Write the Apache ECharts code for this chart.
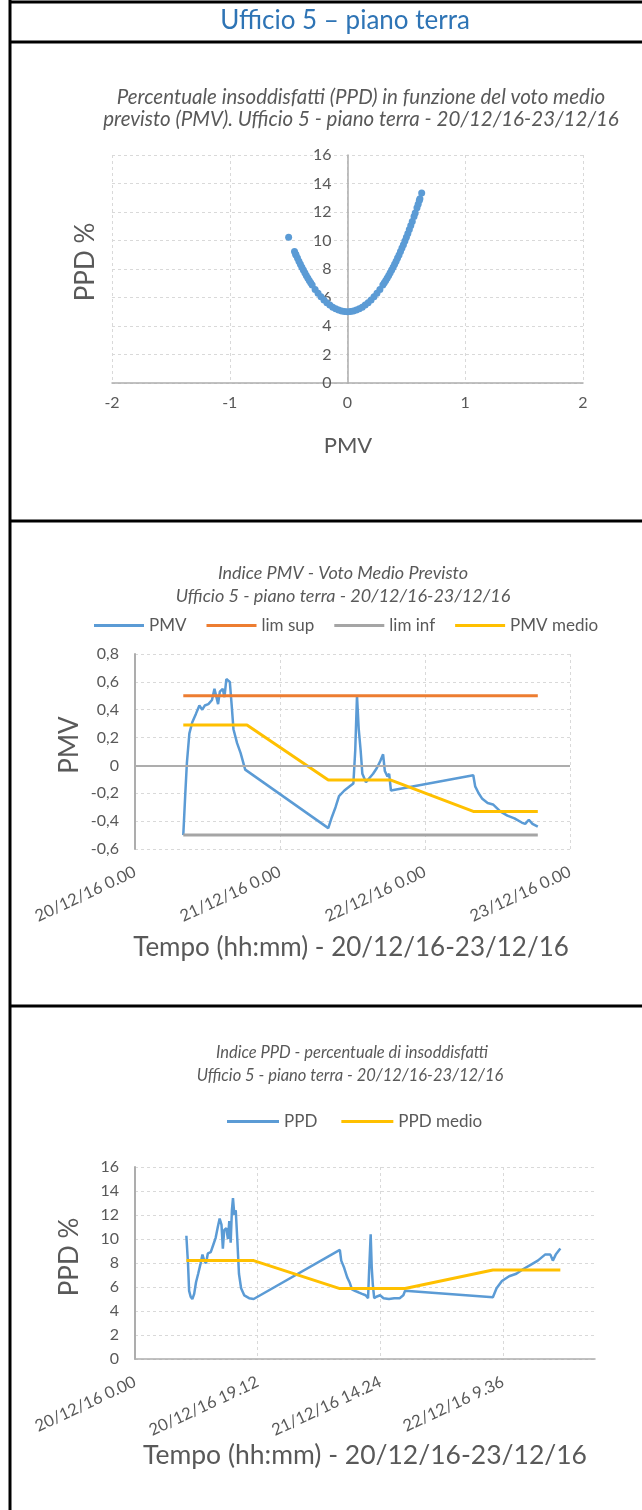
<!DOCTYPE html>
<html>
<head>
<meta charset="utf-8">
<script src="https://cdn.jsdelivr.net/npm/echarts@6/dist/echarts.min.js"></script>
<style>
  html, body { margin: 0; padding: 0; background: #ffffff; }
  #chart { width: 642px; height: 1510px; }
</style>
</head>
<body>
<div id="chart"></div>
<script>
// ---- Scatter: PPD (%) against PMV ----
const scatterPmv = [-0.50, -0.45, -0.44, -0.4375, -0.425, -0.4125, -0.40, -0.3875, -0.375, -0.3625, -0.35, -0.3375, -0.325, -0.3125,
  -0.30, -0.275, -0.25, -0.225, -0.20, -0.175, -0.15, -0.125, -0.10, -0.075, -0.05, -0.025, 0.00,
  0.025, 0.05, 0.075, 0.10, 0.125, 0.15, 0.175, 0.20, 0.225, 0.25, 0.275, 0.30, 0.3125, 0.325, 0.3375, 0.35,
  0.3625, 0.375, 0.3875, 0.40, 0.4125, 0.425, 0.4375, 0.45, 0.4625, 0.475, 0.4875, 0.50, 0.5125, 0.525,
  0.5375, 0.55, 0.565, 0.575, 0.59, 0.60, 0.61, 0.615, 0.63];
const scatterPpd = [10.22, 9.23, 9.04, 8.99, 8.77, 8.55, 8.33, 8.13, 7.93, 7.73, 7.55, 7.37, 7.20, 7.03,
  6.87, 6.57, 6.30, 6.05, 5.83, 5.63, 5.47, 5.32, 5.21, 5.12, 5.05, 5.01, 5.00,
  5.01, 5.05, 5.12, 5.21, 5.32, 5.47, 5.63, 5.83, 6.05, 6.30, 6.57, 6.87, 7.03, 7.20, 7.37, 7.55,
  7.73, 7.93, 8.13, 8.33, 8.55, 8.77, 8.99, 9.23, 9.47, 9.71, 9.97, 10.22, 10.49, 10.77,
  11.05, 11.33, 11.69, 11.93, 12.30, 12.55, 12.80, 12.93, 13.33];

// ---- PMV over time (time in days from 20/12/16 0.00) ----
const pmvTime = [0.333, 0.346, 0.358, 0.375, 0.395, 0.420, 0.444, 0.464, 0.481, 0.506, 0.531, 0.548, 0.560, 0.573,
  0.585, 0.605, 0.617, 0.630, 0.642, 0.654, 0.667, 0.679, 0.704, 0.728, 0.760,
  1.333, 1.358, 1.383, 1.407, 1.444, 1.481, 1.506, 1.519, 1.531, 1.543, 1.556, 1.568, 1.593, 1.617, 1.642,
  1.667, 1.691, 1.711, 1.723, 1.741, 1.753, 1.765,
  2.333, 2.346, 2.370, 2.395, 2.432, 2.469, 2.519, 2.568, 2.617, 2.667, 2.691, 2.716, 2.741, 2.778];
const pmvValue = [-0.50, -0.22, 0.02, 0.23, 0.31, 0.37, 0.43, 0.40, 0.43, 0.44, 0.47, 0.55, 0.56, 0.44,
  0.53, 0.55, 0.49, 0.62, 0.63, 0.60, 0.43, 0.26, 0.16, 0.09, -0.03,
  -0.45, -0.37, -0.30, -0.22, -0.18, -0.15, -0.13, 0.11, 0.50, 0.26, 0.11, -0.06, -0.12, -0.09, -0.06,
  -0.02, 0.03, 0.08, -0.04, -0.08, -0.06, -0.18,
  -0.07, -0.15, -0.20, -0.24, -0.27, -0.28, -0.33, -0.36, -0.38, -0.41, -0.42, -0.39, -0.42, -0.44];
const limTime = [0.333, 2.778];
const limSup = [0.5, 0.5];
const limInf = [-0.5, -0.5];
const pmvMedioTime = [0.333, 0.772, 1.333, 1.765, 2.333, 2.778];
const pmvMedio = [0.29, 0.29, -0.105, -0.105, -0.33, -0.33];

// ---- PPD over time ----
const ppdTime = [0.335, 0.346, 0.353, 0.363, 0.374, 0.386, 0.398, 0.412, 0.428, 0.440, 0.451, 0.463, 0.475, 0.494,
  0.510, 0.526, 0.540, 0.552, 0.564, 0.573, 0.582, 0.596, 0.606, 0.615, 0.624, 0.632, 0.639, 0.648, 0.657,
  0.667, 0.678, 0.692, 0.713, 0.744, 0.774,
  1.336, 1.345, 1.364, 1.384, 1.399, 1.415, 1.434, 1.457, 1.481, 1.504, 1.520, 1.527, 1.537, 1.544, 1.551,
  1.560, 1.574, 1.598, 1.621, 1.656, 1.691, 1.726, 1.750, 1.761,
  2.334, 2.358, 2.393, 2.440, 2.487, 2.533, 2.580, 2.627, 2.674, 2.709, 2.725, 2.744, 2.774];
const ppdValue = [10.27, 7.85, 5.68, 5.19, 5.00, 5.43, 6.40, 7.10, 7.97, 8.70, 8.20, 7.97, 8.80, 8.90,
  9.50, 10.10, 11.00, 11.70, 11.20, 9.20, 10.75, 10.90, 10.00, 11.50, 9.70, 12.40, 13.40, 12.00, 12.40,
  10.00, 7.10, 5.90, 5.30, 5.07, 5.00,
  9.10, 8.20, 7.60, 6.80, 6.40, 5.80, 5.68, 5.56, 5.43, 5.31, 5.07, 7.40, 10.40, 7.60, 6.20,
  5.07, 5.19, 5.31, 5.07, 5.00, 5.07, 5.07, 5.31, 5.68,
  5.14, 5.90, 6.50, 6.90, 7.10, 7.50, 7.85, 8.20, 8.70, 8.70, 8.20, 8.70, 9.20];
const ppdMedioTime = [0.335, 0.774, 1.336, 1.761, 2.334, 2.774];
const ppdMedio = [8.2, 8.2, 5.87, 5.87, 7.42, 7.42];

// ---- Tick labels of the time axes ----
const pmvTickLabels = ['20/12/16 0.00', '21/12/16 0.00', '22/12/16 0.00', '23/12/16 0.00'];
const ppdTickLabels = ['20/12/16 0.00', '20/12/16 19.12', '21/12/16 14.24', '22/12/16 9.36'];

const zip = (xs, ys) => xs.map((x, i) => [x, ys[i]]);

const FONT = 'Lato';
const TXT = '#595959';
const AXIS = '#ADADAD';
const GRIDLINE = { show: true, lineStyle: { color: '#D9D9D9', type: [3, 3], width: 1 } };
const BLUE = '#5B9BD5', ORANGE = '#ED7D31', GRAY = '#A5A5A5', YELLOW = '#FFC000';

function comma(v) {
  if (Math.abs(v) < 1e-9) return '0';
  return String(Math.round(v * 10) / 10).replace('.', ',');
}

const label = (extra) => Object.assign({ color: TXT, fontSize: 16, fontFamily: FONT }, extra);

function text(x, y, str, size, opts) {
  return Object.assign({
    type: 'text', x: x, y: y, silent: true,
    style: Object.assign({
      text: str, fill: TXT, fontSize: size, fontFamily: FONT,
      textAlign: 'center', textVerticalAlign: 'middle'
    }, (opts && opts.style) || {})
  }, (opts && opts.el) || {});
}

function hline(y) {
  return { type: 'line', silent: true, shape: { x1: 10, y1: y, x2: 642, y2: y }, style: { stroke: '#000', lineWidth: 3 } };
}

const chart = echarts.init(document.getElementById('chart'), null, { renderer: 'canvas' });

// scatter grid: the PPD axis sits in the middle of the PMV range (-2..2)
const SC_LEFT = 112, SC_WIDTH = 471;

chart.setOption({
  backgroundColor: '#ffffff',
  animation: false,
  grid: [
    { left: SC_LEFT, top: 155, width: SC_WIDTH, height: 228 },
    { left: 135, top: 654, width: 435, height: 195 },
    { left: 135, top: 1167, width: 460, height: 192 }
  ],
  xAxis: [
    {
      gridIndex: 0, type: 'value', min: -2, max: 2, interval: 1,
      axisLine: { show: true, lineStyle: { color: AXIS, width: 1.5 } },
      axisTick: { show: false },
      axisLabel: label({ margin: 12 }),
      splitLine: GRIDLINE
    },
    {
      gridIndex: 1, type: 'value', min: 0, max: 3, interval: 1,
      axisLine: { show: false },
      axisTick: { show: false },
      axisLabel: label({ fontSize: 16.5, rotate: 25, margin: 22, formatter: v => pmvTickLabels[Math.round(v)] }),
      splitLine: GRIDLINE
    },
    {
      gridIndex: 2, type: 'value', min: 0, max: 3, interval: 0.8,
      axisLine: { show: true, lineStyle: { color: AXIS, width: 1.5 } },
      axisTick: { show: false },
      axisLabel: label({ fontSize: 16.5, rotate: 25, margin: 22, showMaxLabel: false,
        formatter: v => ppdTickLabels[Math.round(v / 0.8)] || '' }),
      splitLine: Object.assign({ showMaxLine: false }, GRIDLINE)
    }
  ],
  yAxis: [
    {
      gridIndex: 0, type: 'value', min: 0, max: 16, interval: 2,
      offset: -SC_WIDTH / 2,
      axisLine: { show: true, onZero: false, lineStyle: { color: AXIS, width: 1.5 } },
      axisTick: { show: false },
      axisLabel: label({ margin: 16 }),
      splitLine: GRIDLINE
    },
    {
      gridIndex: 1, type: 'value', min: -0.6, max: 0.8, interval: 0.2,
      axisLine: { show: true, onZero: false, lineStyle: { color: AXIS, width: 2 } },
      axisTick: { show: false },
      axisLabel: label({ margin: 16, formatter: comma }),
      splitLine: GRIDLINE
    },
    {
      gridIndex: 2, type: 'value', min: 0, max: 16, interval: 2,
      axisLine: { show: true, onZero: false, lineStyle: { color: AXIS, width: 2 } },
      axisTick: { show: false },
      axisLabel: label({ margin: 16 }),
      splitLine: GRIDLINE
    }
  ],
  legend: [
    {
      data: ['PMV', 'lim sup', 'lim inf', 'PMV medio'],
      left: 89, top: 612, icon: 'rect', itemWidth: 50, itemHeight: 3, itemGap: 20,
      textStyle: { color: TXT, fontSize: 17, fontFamily: FONT }
    },
    {
      data: ['PPD', 'PPD medio'],
      left: 222, top: 1108, icon: 'rect', itemWidth: 52, itemHeight: 3, itemGap: 24,
      textStyle: { color: TXT, fontSize: 17, fontFamily: FONT }
    }
  ],
  series: [
    {
      name: 'PPD vs PMV', type: 'scatter', xAxisIndex: 0, yAxisIndex: 0,
      data: zip(scatterPmv, scatterPpd), symbolSize: 7,
      itemStyle: { color: BLUE, opacity: 1 }
    },
    {
      name: 'PMV', type: 'line', xAxisIndex: 1, yAxisIndex: 1,
      data: zip(pmvTime, pmvValue), showSymbol: false,
      lineStyle: { color: BLUE, width: 2.5 }, itemStyle: { color: BLUE },
      markLine: {
        silent: true, symbol: 'none', label: { show: false },
        lineStyle: { color: AXIS, width: 2, type: 'solid' },
        data: [{ yAxis: 0 }]
      }
    },
    {
      name: 'lim sup', type: 'line', xAxisIndex: 1, yAxisIndex: 1,
      data: zip(limTime, limSup), showSymbol: false,
      lineStyle: { color: ORANGE, width: 3 }, itemStyle: { color: ORANGE }
    },
    {
      name: 'lim inf', type: 'line', xAxisIndex: 1, yAxisIndex: 1,
      data: zip(limTime, limInf), showSymbol: false,
      lineStyle: { color: GRAY, width: 3 }, itemStyle: { color: GRAY }
    },
    {
      name: 'PMV medio', type: 'line', xAxisIndex: 1, yAxisIndex: 1,
      data: zip(pmvMedioTime, pmvMedio), showSymbol: false,
      lineStyle: { color: YELLOW, width: 3 }, itemStyle: { color: YELLOW }
    },
    {
      name: 'PPD', type: 'line', xAxisIndex: 2, yAxisIndex: 2,
      data: zip(ppdTime, ppdValue), showSymbol: false,
      lineStyle: { color: BLUE, width: 2.5 }, itemStyle: { color: BLUE }
    },
    {
      name: 'PPD medio', type: 'line', xAxisIndex: 2, yAxisIndex: 2,
      data: zip(ppdMedioTime, ppdMedio), showSymbol: false,
      lineStyle: { color: YELLOW, width: 3 }, itemStyle: { color: YELLOW }
    }
  ],
  graphic: [
    // table frame
    { type: 'line', silent: true, shape: { x1: 10, y1: 0, x2: 10, y2: 1510 }, style: { stroke: '#000', lineWidth: 3 } },
    hline(2), hline(42), hline(521), hline(1006),
    // header
    text(345, 21, 'Ufficio 5 \u2013 piano terra', 26, { style: { fill: '#2E74B5' } }),
    // scatter chart titles and axis names
    text(361, 97, 'Percentuale insoddisfatti (PPD) in funzione del voto medio', 20.5, { style: { fontStyle: 'italic' } }),
    text(361, 119, 'previsto (PMV). Ufficio 5 - piano terra - 20/12/16-23/12/16', 20.5, { style: { fontStyle: 'italic' } }),
    text(348, 446, 'PMV', 22),
    text(86, 262, 'PPD %', 26, { el: { rotation: Math.PI / 2 } }),
    // PMV chart
    text(343, 573, 'Indice PMV - Voto Medio Previsto', 18, { style: { fontStyle: 'italic' } }),
    text(343, 596, 'Ufficio 5 - piano terra - 20/12/16-23/12/16', 18, { style: { fontStyle: 'italic' } }),
    text(70, 745, 'PMV', 26, { el: { rotation: Math.PI / 2 } }),
    text(351, 948, 'Tempo (hh:mm) - 20/12/16-23/12/16', 26),
    // PPD chart
    text(352, 1053, 'Indice PPD - percentuale di insoddisfatti', 16.5, { style: { fontStyle: 'italic' } }),
    text(350, 1076, 'Ufficio 5 - piano terra - 20/12/16-23/12/16', 16.5, { style: { fontStyle: 'italic' } }),
    text(70, 1257, 'PPD %', 26, { el: { rotation: Math.PI / 2 } }),
    text(365, 1455, 'Tempo (hh:mm) - 20/12/16-23/12/16', 26.5)
  ]
});
</script>
</body>
</html>
